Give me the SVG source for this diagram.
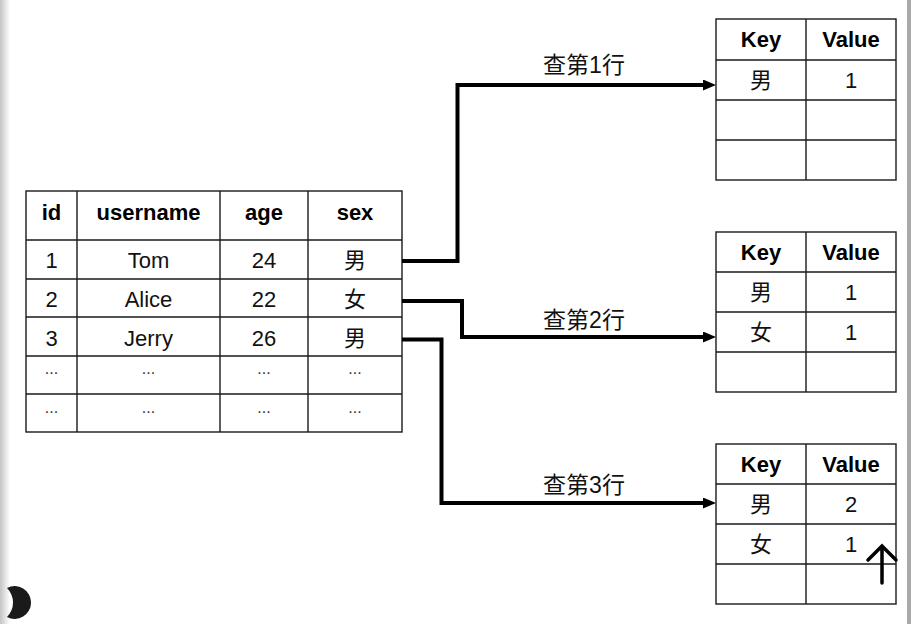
<svg xmlns="http://www.w3.org/2000/svg" width="911" height="624" viewBox="0 0 911 624">
<defs>
<linearGradient id="lg" x1="0" x2="1" y1="0" y2="0">
<stop offset="0" stop-color="#c4c4c4"/>
<stop offset="1" stop-color="#ffffff"/>
</linearGradient>
<marker id="ah" markerUnits="userSpaceOnUse" markerWidth="13" markerHeight="11" refX="7" refY="5.5" orient="auto">
<path d="M0 0 L13 5.5 L0 11 Z" fill="#000"/>
</marker>
<style>
.cell{fill:#fff;stroke:#1a1a1a;stroke-width:1.4}
.grid{stroke:#1a1a1a;stroke-width:1.4;fill:none}
.h{font-family:"Liberation Sans","Noto Sans CJK SC",sans-serif;font-size:22px;font-weight:bold;text-anchor:middle;fill:#000}
.t{font-family:"Liberation Sans","Noto Sans CJK SC",sans-serif;font-size:22px;text-anchor:middle;fill:#111}
.d{font-family:"Liberation Sans",sans-serif;font-size:16px;text-anchor:middle;fill:#333}
.lbl{font-family:"Liberation Sans","Noto Sans CJK SC",sans-serif;font-size:23px;text-anchor:middle;fill:#111}
.conn{fill:none;stroke:#000;stroke-width:4;stroke-linejoin:miter}
</style>
</defs>
<rect x="0" y="0" width="911" height="624" fill="#fff"/>
<rect x="0" y="0" width="10" height="624" fill="url(#lg)"/>
<rect x="907" y="0" width="4" height="624" fill="#a9a9a9"/>

<g id="main-table">
<rect class="cell" x="26" y="191" width="376" height="241"/>
<path class="grid" d="M77 191V432M220 191V432M308 191V432M26 240H402M26 279H402M26 317H402M26 356H402M26 394H402"/>
<text class="h" x="51.5" y="220">id</text>
<text class="h" x="148.5" y="220">username</text>
<text class="h" x="264" y="220">age</text>
<text class="h" x="355" y="220">sex</text>
<text class="t" x="51.5" y="268">1</text>
<text class="t" x="148.5" y="268">Tom</text>
<text class="t" x="264" y="268">24</text>
<text class="t" x="355" y="268">男</text>
<text class="t" x="51.5" y="306.5">2</text>
<text class="t" x="148.5" y="306.5">Alice</text>
<text class="t" x="264" y="306.5">22</text>
<text class="t" x="355" y="306.5">女</text>
<text class="t" x="51.5" y="345.5">3</text>
<text class="t" x="148.5" y="345.5">Jerry</text>
<text class="t" x="264" y="345.5">26</text>
<text class="t" x="355" y="345.5">男</text>
<text class="d" x="51.5" y="374">...</text>
<text class="d" x="148.5" y="374">...</text>
<text class="d" x="264" y="374">...</text>
<text class="d" x="355" y="374">...</text>
<text class="d" x="51.5" y="413">...</text>
<text class="d" x="148.5" y="413">...</text>
<text class="d" x="264" y="413">...</text>
<text class="d" x="355" y="413">...</text>
</g>

<g id="map-1">
<rect class="cell" x="716" y="19" width="180" height="161"/>
<path class="grid" d="M806 19V180M716 60H896M716 100H896M716 140H896"/>
<text class="h" x="761" y="47">Key</text>
<text class="h" x="851" y="47">Value</text>
<text class="t" x="761" y="88">男</text>
<text class="t" x="851" y="88">1</text>
</g>

<g id="map-2">
<rect class="cell" x="716" y="232" width="180" height="160"/>
<path class="grid" d="M806 232V392M716 272H896M716 312H896M716 352H896"/>
<text class="h" x="761" y="260">Key</text>
<text class="h" x="851" y="260">Value</text>
<text class="t" x="761" y="300">男</text>
<text class="t" x="851" y="300">1</text>
<text class="t" x="761" y="340">女</text>
<text class="t" x="851" y="340">1</text>
</g>

<g id="map-3">
<rect class="cell" x="716" y="444" width="180" height="160"/>
<path class="grid" d="M806 444V604M716 484H896M716 524H896M716 564H896"/>
<text class="h" x="761" y="472">Key</text>
<text class="h" x="851" y="472">Value</text>
<text class="t" x="761" y="512">男</text>
<text class="t" x="851" y="512">2</text>
<text class="t" x="761" y="552">女</text>
<text class="t" x="851" y="552">1</text>
</g>

<g id="connectors">
<path class="conn" d="M402 261H457.5V85H710" marker-end="url(#ah)"/>
<path class="conn" d="M402 301H462V337H710" marker-end="url(#ah)"/>
<path class="conn" d="M402 339.5H441.5V503H710" marker-end="url(#ah)"/>
<text class="lbl" x="584" y="73">查第1行</text>
<text class="lbl" x="584" y="328">查第2行</text>
<text class="lbl" x="584" y="493">查第3行</text>
</g>

<g id="cursor-arrow">
<path d="M882 583V548M868 560L882 546L896 560" fill="none" stroke="#000" stroke-width="3.5" stroke-linecap="round" stroke-linejoin="miter"/>
</g>

<g id="moon">
<path d="M7 588A16.4 16.4 0 1 1 7 617A20.5 20.5 0 0 0 7 588Z" fill="#1a1a1a"/>
</g>
</svg>
